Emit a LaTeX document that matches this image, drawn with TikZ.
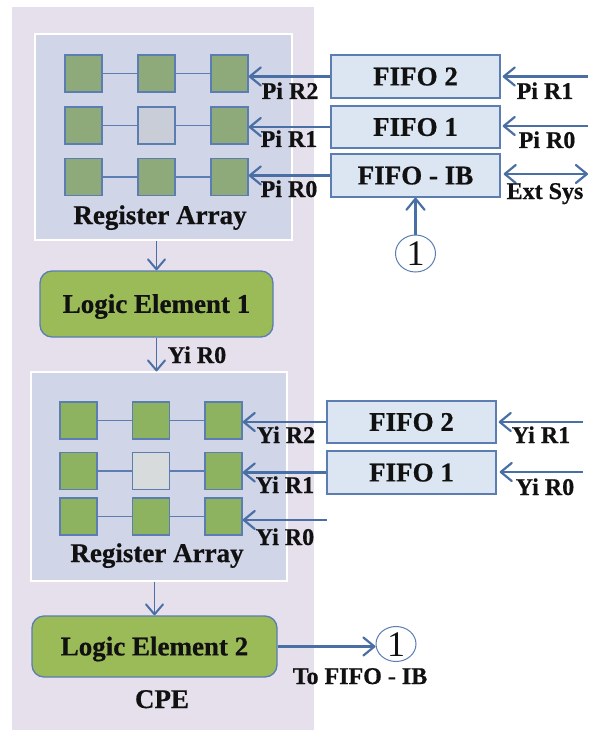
\documentclass[tikz,border=0pt]{standalone}
\usepackage{fontspec}
\setmainfont{Liberation Serif}[BoldFeatures={FakeBold=0.6}]
\usetikzlibrary{arrows.meta,shapes.geometric}
\definecolor{cpebg}{HTML}{E5E0EC}
\definecolor{rabg}{HTML}{D0D5E8}
\definecolor{sqA}{HTML}{8FAA7A}
\definecolor{sqAg}{HTML}{C8CDD8}
\definecolor{sqB}{HTML}{8DB361}
\definecolor{sqBg}{HTML}{D8DBDB}
\definecolor{fifofill}{HTML}{DCE6F2}
\definecolor{edge}{HTML}{5B7DB1}
\definecolor{lefill}{HTML}{9BBB59}
\definecolor{arr}{HTML}{4A6FA5}
\definecolor{txt}{HTML}{111111}
\tikzset{
  bigtext/.style={font=\fontsize{27}{30}\selectfont\bfseries, text=txt},
  labtext/.style={font=\fontsize{24}{26}\selectfont\bfseries, text=txt, anchor=base, inner sep=0pt},
  regarr/.style={rectangle, fill=rabg, draw=white, line width=1.2pt, inner sep=0pt},
  sqbox/.style={rectangle, draw=edge, line width=1.3pt, minimum size=37pt, inner sep=0pt},
  fifobox/.style={rectangle, draw=edge, fill=fifofill, line width=1.3pt, minimum width=169pt, inner sep=0pt, bigtext, text height=17.8pt, text depth=0pt},
  lebox/.style={rectangle, rounded corners=12pt, draw=edge, fill=lefill, line width=1.3pt, inner sep=0pt, bigtext, text height=17.8pt, text depth=0pt},
  circ/.style={ellipse, draw=edge, line width=1pt, minimum width=40pt, minimum height=37pt, inner sep=0pt, font=\fontsize{36}{38}\selectfont, text=txt, text height=24pt, text depth=0pt},
  link/.style={draw=edge, line width=1.3pt},
  tipA/.tip={Straight Barb[length=11pt,width=18pt,line width=2.2pt,round]},
  tipB/.tip={Straight Barb[length=10pt,width=17pt,line width=2pt,round]},
  sig/.style={draw=arr, line width=2.4pt, -tipA},
  sigd/.style={draw=arr, line width=2.4pt, tipA-tipA},
  vsig/.style={draw=arr, line width=1.8pt, -tipB},
}
\begin{document}
\begin{tikzpicture}[x=1pt,y=-1pt]
\useasboundingbox (0,0) rectangle (590,730);
% CPE background
\fill[cpebg] (12,7) rectangle (314,730);

% Register arrays
\node[regarr, minimum width=257pt, minimum height=206pt] (ra1) at (163.5,137) {};
\node[regarr, minimum width=256pt, minimum height=209pt] (ra2) at (159,476.5) {};

% Array 1 squares
\node[sqbox, fill=sqA]  (a11) at (83.5,73.5) {};
\node[sqbox, fill=sqA]  (a12) at (156.5,73.5) {};
\node[sqbox, fill=sqA]  (a13) at (229.5,73.5) {};
\node[sqbox, fill=sqA]  (a21) at (83.5,125.5) {};
\node[sqbox, fill=sqAg] (a22) at (156.5,125.5) {};
\node[sqbox, fill=sqA]  (a23) at (229.5,125.5) {};
\node[sqbox, fill=sqA]  (a31) at (83.5,177) {};
\node[sqbox, fill=sqA]  (a32) at (156.5,177) {};
\node[sqbox, fill=sqA]  (a33) at (229.5,177) {};
\foreach \r in {1,2,3}{
  \draw[link] (a\r1.east) -- (a\r2.west);
  \draw[link] (a\r2.east) -- (a\r3.west);
}
\node[bigtext, anchor=base, inner sep=0pt] (ralab1) at (160,224) {Register Array};

% Array 2 squares
\node[sqbox, fill=sqB]  (b11) at (78.5,420.5) {};
\node[sqbox, fill=sqB]  (b12) at (151,420.5) {};
\node[sqbox, fill=sqB]  (b13) at (223.5,420.5) {};
\node[sqbox, fill=sqB]  (b21) at (78.5,471) {};
\node[sqbox, fill=sqBg] (b22) at (151,471) {};
\node[sqbox, fill=sqB]  (b23) at (223.5,471) {};
\node[sqbox, fill=sqB]  (b31) at (78.5,516.5) {};
\node[sqbox, fill=sqB]  (b32) at (151,516.5) {};
\node[sqbox, fill=sqB]  (b33) at (223.5,516.5) {};
\foreach \r in {1,2,3}{
  \draw[link] (b\r1.east) -- (b\r2.west);
  \draw[link] (b\r2.east) -- (b\r3.west);
}
\node[bigtext, anchor=base, inner sep=0pt] (ralab2) at (157,562) {Register Array};

% FIFOs top
\node[fifobox, minimum height=43pt] (f2)  at (415.5,76.5) {FIFO 2};
\node[fifobox, minimum height=42pt] (f1)  at (415.5,127) {FIFO 1};
\node[fifobox, minimum height=43pt] (fib) at (415.5,175.5) {FIFO - IB};

% FIFOs bottom
\node[fifobox, minimum height=42pt] (g2) at (411.5,422) {FIFO 2};
\node[fifobox, minimum height=43pt] (g1) at (411.5,472.5) {FIFO 1};

% Logic elements
\node[lebox, minimum width=233pt, minimum height=66pt] (le1) at (156.5,304) {Logic Element 1};
\node[lebox, minimum width=245pt, minimum height=61pt] (le2) at (154.5,646.5) {Logic Element 2};

% circles
\node[circ] (c1) at (415.5,253.5) {1};
\node[circ, minimum height=35pt] (c2) at (396,644) {1};

% arrows into array 1
\draw[sig] (f2.west) -- (f2.west -| a13.east);
\draw[sig] (f1.west) -- (f1.west -| a23.east);
\draw[sig] (fib.west) -- (fib.west -| a33.east);

% arrows into top FIFOs
\coordinate (pin2) at (588,76.5);
\coordinate (pin1) at (588,126);
\coordinate (ext) at (588,174);
\draw[sig] (pin2) -- ([xshift=2pt]pin2 -| f2.east);
\draw[sig] (pin1) -- ([xshift=2pt]pin1 -| f1.east);
\draw[sigd] (ext) -- ([xshift=3pt]ext -| fib.east);
\draw[sig] (c1.north) -- (c1.north |- fib.south);

% arrows into array 2
\draw[sig] (g2.west) -- (g2.west -| b13.east);
\draw[sig] (g1.west) -- (g1.west -| b23.east);
\coordinate (yin0) at (327,520);
\draw[sig] (yin0) -- (yin0 -| b33.east);
\coordinate (yin2) at (583,422);
\coordinate (yin1) at (583,472);
\draw[sig] (yin2) -- ([xshift=2pt]yin2 -| g2.east);
\draw[sig] (yin1) -- ([xshift=3pt]yin1 -| g1.east);

% vertical flow
\draw[vsig] (le1.north |- ra1.south) -- (le1.north);
\draw[vsig] (le1.south) -- (le1.south |- ra2.north);
\draw[vsig] (le2.north |- ra2.south) -- (le2.north);
\draw[sig] (le2.east) -- (le2.east -| c2.west);

% labels
\node[labtext] (lp2) at (290,99) {Pi R2};
\node[labtext] (lp1) at (289,147) {Pi R1};
\node[labtext] (lp0) at (289,197) {Pi R0};
\node[labtext] (rp1) at (545,99) {Pi R1};
\node[labtext] (rp0) at (547,148) {Pi R0};
\node[labtext] (les) at (545,199) {Ext Sys};
\node[labtext] (ly0a) at (197,363) {Yi R0};
\node[labtext] (ly2) at (286,443) {Yi R2};
\node[labtext] (ly1) at (285,493) {Yi R1};
\node[labtext] (ly0) at (285,545) {Yi R0};
\node[labtext] (ry1) at (541,443) {Yi R1};
\node[labtext] (ry0) at (545,495) {Yi R0};
\node[labtext] (tofifo) at (360,684) {To FIFO - IB};
\node[bigtext, anchor=base, inner sep=0pt] (cpe) at (162,708) {CPE};
\end{tikzpicture}
\end{document}
